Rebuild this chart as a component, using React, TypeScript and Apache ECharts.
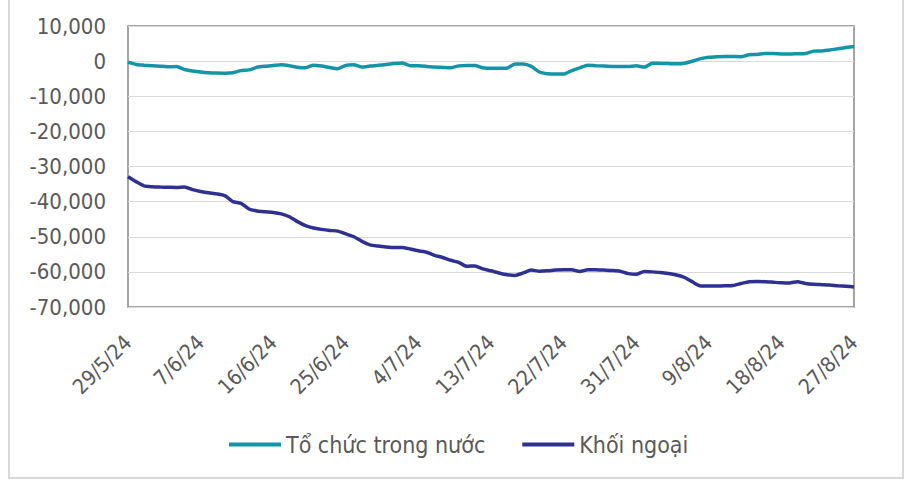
import React, { useEffect, useRef } from "react";
import * as echarts from "echarts";

const startDate = [2024, 4, 29]; // 29/5/24
const dayCount = 91;
const categories: string[] = [];
for (let i = 0; i < dayCount; i++) {
  const d = new Date(startDate[0], startDate[1], startDate[2] + i);
  categories.push(`${d.getDate()}/${d.getMonth() + 1}/${String(d.getFullYear()).slice(2)}`);
}

const seriesNames = ["Tổ chức trong nước", "Khối ngoại"];

const domestic = [
  -300, -950, -1150, -1300, -1450, -1600, -1550, -2400, -2800, -3100,
  -3300, -3400, -3420, -3300, -2700, -2500, -1750, -1450, -1250, -1050,
  -1300, -1750, -1900, -1150, -1400, -1800, -2150, -1200, -1050, -1700,
  -1400, -1200, -950, -700, -500, -1300, -1330, -1500, -1700, -1800,
  -1900, -1350, -1250, -1250, -1900, -2050, -2050, -1950, -800, -800,
  -1500, -3100, -3600, -3700, -3700, -2700, -1900, -1150, -1300, -1400,
  -1500, -1550, -1550, -1350, -1700, -600, -650, -700, -750, -600,
  0, 700, 1100, 1250, 1330, 1300, 1250, 1800, 1900, 2180,
  2150, 2050, 2000, 2100, 2180, 2850, 2900, 3150, 3500, 3850,
  4180,
];

const foreign = [
  -32900, -34300, -35500, -35750, -35850, -35900, -35950, -35850, -36600, -37100,
  -37500, -37800, -38300, -40000, -40500, -42100, -42650, -42900, -43100, -43500,
  -44300, -45700, -46800, -47500, -47900, -48200, -48400, -49200, -50000, -51300,
  -52300, -52650, -52900, -53050, -53050, -53500, -54000, -54400, -55300, -55900,
  -56700, -57300, -58400, -58300, -59150, -59700, -60300, -60800, -61000, -60300,
  -59500, -59800, -59700, -59500, -59400, -59400, -59900, -59400, -59400, -59500,
  -59600, -59800, -60500, -60700, -59900, -60000, -60150, -60450, -60900, -61600,
  -62900, -64000, -64000, -64000, -63950, -63850, -63300, -62800, -62750, -62800,
  -62950, -63100, -63150, -62800, -63300, -63550, -63650, -63750, -63950, -64100,
  -64300,
];

const yMin = -70000;
const yMax = 10000;
const yStep = 10000;

const colors = ["#1395A8", "#2E3192"];
const textColor = "#595959";
const fontFamily = "'DejaVu Sans Condensed', 'Liberation Sans', sans-serif";

export default function App() {
  const ref = useRef<HTMLDivElement>(null);
  useEffect(() => {
    if (!ref.current) return;
    const chart = echarts.init(ref.current, undefined, { renderer: "svg" });
    chart.setOption({
      animation: false,
      backgroundColor: "#ffffff",
      color: colors,
      graphic: [
        {
          type: "rect",
          shape: { x: 9, y: -5, width: 894, height: 483 },
          style: { fill: "none", stroke: "#D9D9D9", lineWidth: 2 },
          silent: true,
        },
      ],
      grid: {
        left: 128,
        top: 26,
        right: 60,
        bottom: 175,
        show: true,
        borderColor: "#868686",
        borderWidth: 1.5,
        containLabel: false,
      },
      legend: {
        data: seriesNames,
        left: 224,
        top: 428,
        icon: "rect",
        itemWidth: 52,
        itemHeight: 4,
        itemGap: 37,
        textStyle: { color: textColor, fontSize: 23, fontFamily },
      },
      xAxis: {
        type: "category",
        data: categories,
        boundaryGap: false,
        axisLine: { show: false, onZero: false },
        axisTick: { show: false },
        splitLine: { show: false },
        axisLabel: {
          interval: 8,
          rotate: 45,
          margin: 32,
          color: textColor,
          fontSize: 21,
          fontFamily,
        },
      },
      yAxis: {
        type: "value",
        min: yMin,
        max: yMax,
        interval: yStep,
        axisLine: { show: false },
        axisTick: { show: false },
        splitLine: { show: true, lineStyle: { color: "#D9D9D9", width: 1 } },
        axisLabel: {
          margin: 22,
          color: textColor,
          fontSize: 22,
          fontFamily,
          formatter: (v: number) => v.toLocaleString("en-US"),
        },
      },
      series: [
        {
          name: seriesNames[0],
          type: "line",
          data: domestic,
          showSymbol: false,
          smooth: 0.2,
          lineStyle: { width: 3.5, color: colors[0] },
        },
        {
          name: seriesNames[1],
          type: "line",
          data: foreign,
          showSymbol: false,
          smooth: 0.2,
          lineStyle: { width: 3.5, color: colors[1] },
        },
      ],
    });
    return () => chart.dispose();
  }, []);
  return (
    <div
      ref={ref}
      style={{ position: "fixed", left: 0, top: 0, width: 914, height: 482 }}
    />
  );
}
